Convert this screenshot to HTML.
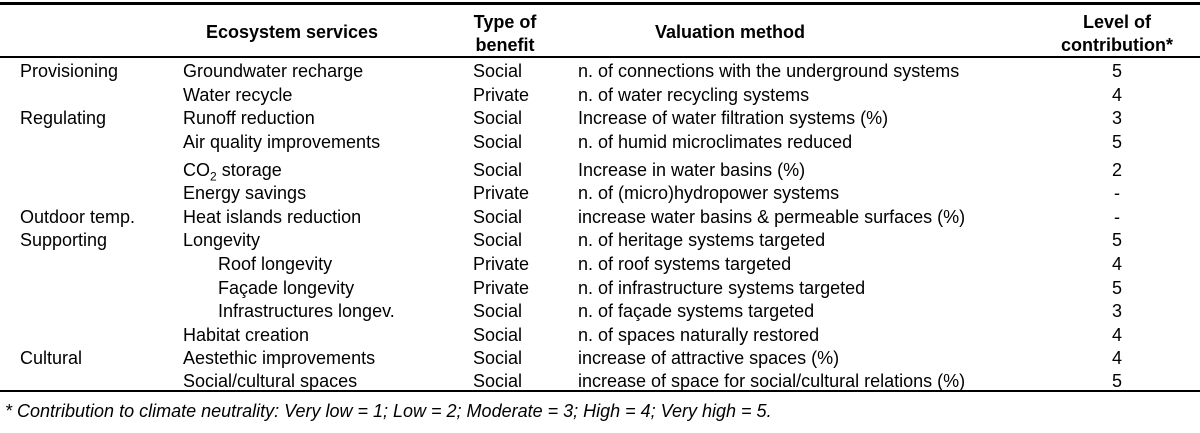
<!DOCTYPE html>
<html><head><meta charset="utf-8"><style>
body{margin:0;width:1200px;height:433px;background:#fff;position:relative;overflow:hidden;font-family:"Liberation Sans",Arial,sans-serif;color:#000;font-size:18px}
.r{position:absolute;left:0;width:1200px;height:0;background:#000}
.t{position:absolute;white-space:nowrap;line-height:20px;transform:translateY(-10px)}
.b{font-weight:bold}
.c{text-align:center;transform:translate(-50%,-10px)}
</style></head><body>
<div class="r" style="top:2px;height:2.5px"></div>
<div class="r" style="top:56px;height:2px"></div>
<div class="r" style="top:390px;height:2px"></div>
<div id="hdr"></div>
<div id="rows"></div>
<div class="t" style="left:5px;top:411px;font-style:italic">* Contribution to climate neutrality: Very low = 1; Low = 2; Moderate = 3; High = 4; Very high = 5.</div>
<script>
const H=[["Ecosystem services",292,32],["Type of",505,22],["benefit",505,45],["Valuation method",730,32],["Level of",1117,22],["contribution*",1117,45]];
const hdr=document.getElementById('hdr');
H.forEach(h=>{const d=document.createElement('div');d.className='t b c';d.style.left=h[1]+'px';d.style.top=h[2]+'px';d.textContent=h[0];


hdr.appendChild(d);});
const categories=["Provisioning","","Regulating","","","","Outdoor temp.","Supporting","","","","","Cultural",""];
const services=["Groundwater recharge","Water recycle","Runoff reduction","Air quality improvements","CO<sub style='font-size:12px'>2</sub> storage","Energy savings","Heat islands reduction","Longevity","Roof longevity","Façade longevity","Infrastructures longev.","Habitat creation","Aestethic improvements","Social/cultural spaces"];
const indent=[0,0,0,0,0,0,0,0,1,1,1,0,0,0];
const benefits=["Social","Private","Social","Social","Social","Private","Social","Social","Private","Private","Social","Social","Social","Social"];
const methods=["n. of connections with the underground systems","n. of water recycling systems","Increase of water filtration systems (%)","n. of humid microclimates reduced","Increase in water basins (%)","n. of (micro)hydropower systems","increase water basins &amp; permeable surfaces (%)","n. of heritage systems targeted","n. of roof systems targeted","n. of infrastructure systems targeted","n. of façade systems targeted","n. of spaces naturally restored","increase of attractive spaces (%)","increase of space for social/cultural relations (%)"];
const levels=["5","4","3","5","2","-","-","5","4","5","3","4","4","5"];
const ys=[71,95,118,142,170,193,217,240,264,288,311,335,358,381];
const rows=document.getElementById('rows');
function cell(txt,x,y,name,center){const d=document.createElement('div');d.className='t'+(center?' c':'');d.style.left=x+'px';d.style.top=y+'px';d.innerHTML=txt;


rows.appendChild(d);}
services.forEach((s,i)=>{const y=ys[i];
if(categories[i])cell(categories[i],20,y,'category-cell');
cell(s,indent[i]?218:183,y,'service-cell');
cell(benefits[i],473,y,'benefit-cell');
cell(methods[i],578,y,'method-cell');
cell(levels[i],1117,y,'level-cell',true);});
</script>
</body></html>
